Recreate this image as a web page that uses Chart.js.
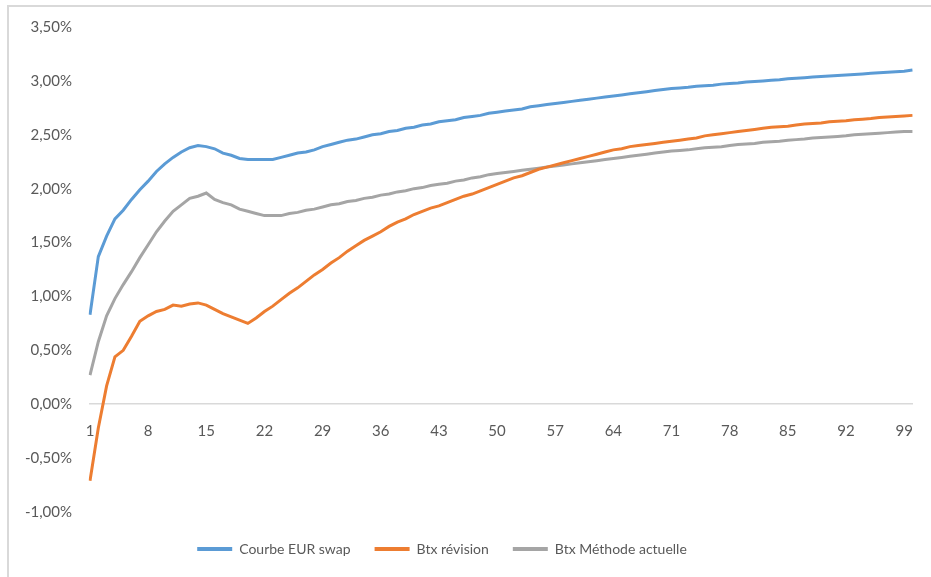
<!DOCTYPE html>
<html>
<head>
<meta charset="utf-8">
<script src="https://cdn.jsdelivr.net/npm/chart.js@4"></script>
<style>
  html, body { margin: 0; padding: 0; background: #fff; }
  #wrap { position: relative; width: 931px; height: 577px; }
  #frame { position: absolute; left: 7px; top: 5px; width: 940px; height: 600px; border-top: 2px solid #d9d9d9; border-left: 2px solid #d9d9d9; pointer-events: none; }
</style>
</head>
<body>
<div id="wrap">
  <canvas id="c" width="931" height="577"></canvas>
  <div id="frame"></div>
</div>
<script>
// Maturities 1..100
const categories = [];
for (let i = 1; i <= 100; i++) categories.push(String(i));

const seriesNames = ["Courbe EUR swap", "Btx révision", "Btx Méthode actuelle"];

// Values in %
const eurSwap = [
  0.83, 1.37, 1.56, 1.72, 1.80, 1.90, 1.99, 2.07, 2.16, 2.23,
  2.29, 2.34, 2.38, 2.40, 2.39, 2.37, 2.33, 2.31, 2.28, 2.27,
  2.27, 2.27, 2.27, 2.29, 2.31, 2.33, 2.34, 2.36, 2.39, 2.41,
  2.43, 2.45, 2.46, 2.48, 2.50, 2.51, 2.53, 2.54, 2.56, 2.57,
  2.59, 2.60, 2.62, 2.63, 2.64, 2.66, 2.67, 2.68, 2.70, 2.71,
  2.72, 2.73, 2.74, 2.76, 2.77, 2.78, 2.79, 2.80, 2.81, 2.82,
  2.83, 2.84, 2.85, 2.86, 2.87, 2.88, 2.89, 2.90, 2.91, 2.92,
  2.93, 2.935, 2.94, 2.95, 2.955, 2.96, 2.97, 2.975, 2.98, 2.99,
  2.995, 3.00, 3.005, 3.01, 3.02, 3.025, 3.03, 3.035, 3.04, 3.045,
  3.05, 3.055, 3.06, 3.065, 3.07, 3.075, 3.08, 3.085, 3.09, 3.10
];

const btxRevision = [
  -0.71, -0.22, 0.17, 0.44, 0.50, 0.63, 0.77, 0.82, 0.86, 0.88,
  0.92, 0.91, 0.93, 0.94, 0.92, 0.88, 0.84, 0.81, 0.78, 0.75,
  0.80, 0.86, 0.91, 0.97, 1.03, 1.08, 1.14, 1.20, 1.25, 1.31,
  1.36, 1.42, 1.47, 1.52, 1.56, 1.60, 1.65, 1.69, 1.72, 1.76,
  1.79, 1.82, 1.84, 1.87, 1.90, 1.93, 1.95, 1.98, 2.01, 2.04,
  2.07, 2.10, 2.12, 2.15, 2.18, 2.20, 2.22, 2.24, 2.26, 2.28,
  2.30, 2.32, 2.34, 2.36, 2.37, 2.39, 2.40, 2.41, 2.42, 2.43,
  2.44, 2.45, 2.46, 2.47, 2.49, 2.50, 2.51, 2.52, 2.53, 2.54,
  2.55, 2.56, 2.57, 2.575, 2.58, 2.59, 2.60, 2.605, 2.61, 2.62,
  2.625, 2.63, 2.64, 2.645, 2.65, 2.66, 2.665, 2.67, 2.675, 2.68
];

const btxActuelle = [
  0.27, 0.58, 0.82, 0.98, 1.11, 1.23, 1.36, 1.48, 1.60, 1.70,
  1.79, 1.85, 1.91, 1.93, 1.96, 1.90, 1.87, 1.85, 1.81, 1.79,
  1.77, 1.75, 1.75, 1.75, 1.77, 1.78, 1.80, 1.81, 1.83, 1.85,
  1.86, 1.88, 1.89, 1.91, 1.92, 1.94, 1.95, 1.97, 1.98, 2.00,
  2.01, 2.03, 2.04, 2.05, 2.07, 2.08, 2.10, 2.11, 2.13, 2.14,
  2.15, 2.16, 2.17, 2.18, 2.19, 2.20, 2.21, 2.22, 2.23, 2.24,
  2.25, 2.26, 2.27, 2.28, 2.29, 2.30, 2.31, 2.32, 2.33, 2.34,
  2.35, 2.355, 2.36, 2.37, 2.38, 2.385, 2.39, 2.40, 2.41, 2.415,
  2.42, 2.43, 2.435, 2.44, 2.45, 2.455, 2.46, 2.47, 2.475, 2.48,
  2.485, 2.49, 2.50, 2.505, 2.51, 2.515, 2.52, 2.525, 2.53, 2.53
];

const yTicks = [-1, -0.5, 0, 0.5, 1, 1.5, 2, 2.5, 3, 3.5];

const colors = ["#5B9BD5", "#ED7D31", "#A5A5A5"];
const FONT = "Lato, 'Open Sans', sans-serif";

const data = {
  labels: categories,
  datasets: [eurSwap, btxRevision, btxActuelle].map((vals, k) => ({
    label: seriesNames[k],
    data: vals,
    borderColor: colors[k],
    backgroundColor: colors[k],
    borderWidth: 3,
    pointRadius: 0,
    tension: 0,
    fill: false
  }))
};

// Extra room above the legend: taller legend box, items pushed down inside it
const EXTRA = 14, SHIFT = 6;
const legendGap = {
  id: 'legendGap',
  beforeUpdate(chart) {
    const lg = chart.legend;
    if (lg && !lg._patched) {
      const f = lg.fit;
      lg.fit = function () { f.call(this); this.height += EXTRA; };
      const d = lg.draw;
      lg.draw = function () {
        const ctx = this.ctx;
        ctx.save();
        ctx.translate(0, SHIFT);
        d.apply(this, arguments);
        ctx.restore();
      };
      lg._patched = true;
    }
  }
};

new Chart(document.getElementById('c'), {
  type: 'line',
  data,
  plugins: [legendGap],
  options: {
    responsive: false,
    animation: false,
    layout: { padding: { left: -30, right: 17, top: 24, bottom: 3 } },
    plugins: {
      tooltip: { enabled: false },
      legend: {
        position: 'bottom',
        labels: {
          color: '#595959',
          font: { family: FONT, size: 14 },
          boxWidth: 35,
          boxHeight: 4,
          padding: 24,
          generateLabels(chart) {
            return chart.data.datasets.map((ds, i) => ({
              text: ds.label,
              fillStyle: ds.borderColor,
              strokeStyle: ds.borderColor,
              lineWidth: 0,
              fontColor: '#595959',
              hidden: false,
              datasetIndex: i
            }));
          }
        }
      }
    },
    scales: {
      x: {
        type: 'category',
        position: { y: 0 },
        grid: { display: false, drawTicks: false },
        border: { display: true, color: '#d9d9d9', width: 1.5 },
        ticks: {
          autoSkip: false,
          maxRotation: 0,
          minRotation: 0,
          padding: 18,
          color: '#595959',
          font: { family: FONT, size: 15 },
          callback(val, idx) { return idx % 7 === 0 ? categories[idx] : null; }
        }
      },
      y: {
        min: yTicks[0],
        max: yTicks[yTicks.length - 1],
        afterBuildTicks(scale) { scale.ticks = yTicks.map(v => ({ value: v })); },
        afterFit(scale) { scale.width = 120; },
        grid: { display: false, drawTicks: false },
        border: { display: false },
        ticks: {
          padding: 18,
          color: '#595959',
          font: { family: FONT, size: 15 },
          callback(v) { return v.toFixed(2).replace('.', ',') + '%'; }
        }
      }
    }
  }
});
</script>
</body>
</html>
